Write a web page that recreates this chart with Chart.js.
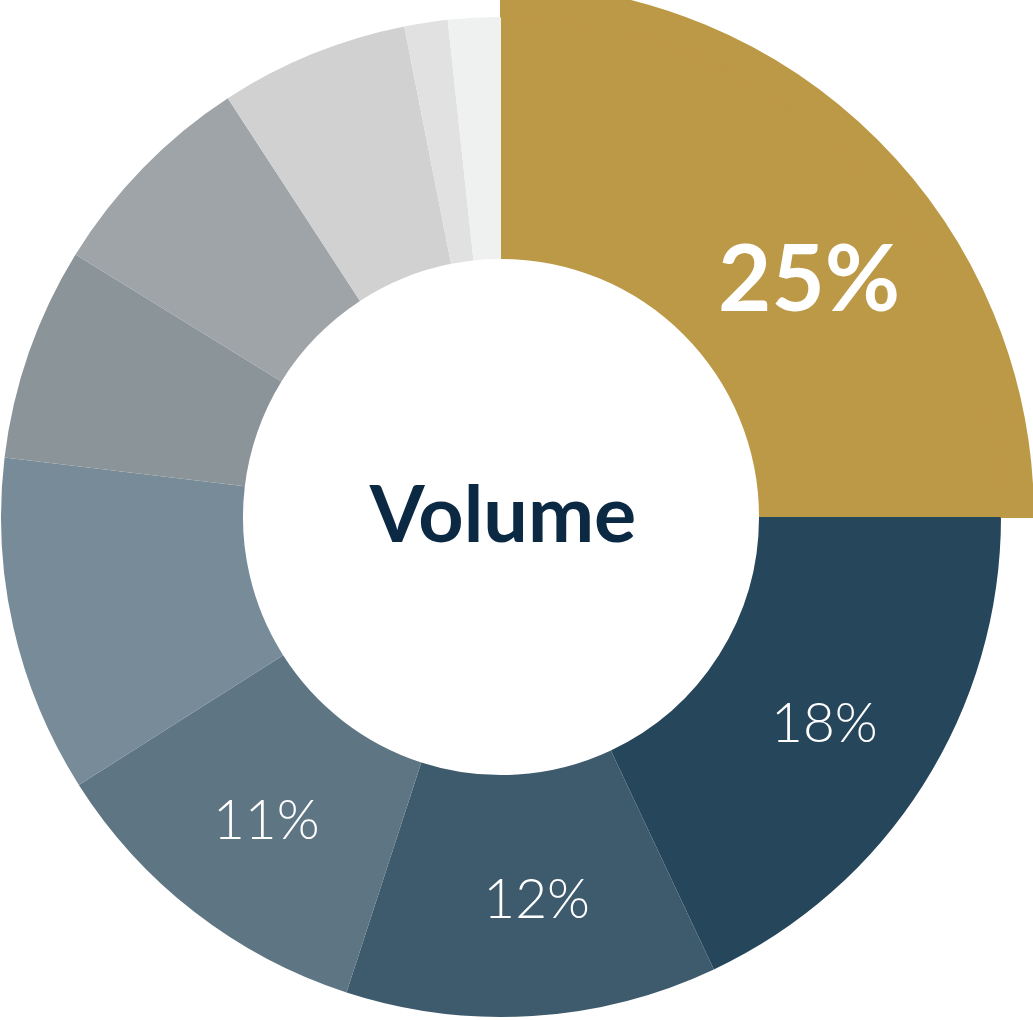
<!DOCTYPE html>
<html>
<head>
<meta charset="utf-8">
<title>Volume</title>
<script src="https://cdn.jsdelivr.net/npm/chart.js@4.4.0/dist/chart.umd.min.js"></script>
<style>
  html, body { margin: 0; padding: 0; background: #ffffff; overflow: hidden; }
  #wrap { position: relative; width: 1033px; height: 1020px; }
</style>
</head>
<body>
<div id="wrap"><canvas id="volume-doughnut-chart"></canvas></div>
<script>
// data (share of volume, %)
let segments = ['Segment 1', 'Segment 2', 'Segment 3', 'Segment 4', 'Segment 5',
                'Segment 6', 'Segment 7', 'Segment 8', 'Segment 9', 'Segment 10']
let volumeShares = [25, 18, 12, 11, 10.9, 6.9, 7.0, 6.1, 1.4, 1.7]
let sliceLabels = ['25%', '18%', '12%', '11%', '', '', '', '', '', '']
let centerTitle = 'Volume'

let sliceColors = ['#bc9946', '#26465b', '#3e5a6d', '#5e7584', '#788b98',
                   '#8b9498', '#9ea4a7', '#d1d1d1', '#e1e1e1', '#eff0f0']
let gold = sliceColors[0]

// outer thin ring only shows the first (highlighted) slice, so it sticks out
let highlightColors = sliceColors.map(function(c, i) { return i == 0 ? c : 'rgba(0,0,0,0)' })
let highlightBorders = sliceColors.map(function(c, i) { return i == 0 ? 2 : 0 })

// label placement: how far along the slice, and distance from centre
let bigLabel = { size: 92, weight: 700, radius: 390, along: 0.58 }
let smallLabel = { size: 55, weight: 300, radius: 383, along: 0.5 }
let labelAlong = [0.58, 0.5, 0.46, 0.5]

// draws slice labels and the title in the hole
let textPlugin = {
    id: 'sliceText',
    afterDatasetsDraw(chart) {
        let ctx = chart.ctx
        let meta = chart.getDatasetMeta(1)
        ctx.save()
        ctx.textAlign = 'center'
        ctx.textBaseline = 'alphabetic'
        meta.data.forEach(function(arc, i) {
            let text = sliceLabels[i]
            if (!text) return
            let p = arc.getProps(['x', 'y', 'startAngle', 'endAngle'], true)
            let style = i == 0 ? bigLabel : smallLabel
            let along = labelAlong[i] !== undefined ? labelAlong[i] : style.along
            let angle = p.startAngle + (p.endAngle - p.startAngle) * along
            let x = p.x + Math.cos(angle) * style.radius
            let y = p.y + Math.sin(angle) * style.radius
            ctx.font = style.weight + ' ' + style.size + 'px Lato, "Open Sans", sans-serif'
            ctx.fillStyle = '#ffffff'
            ctx.fillText(text, x, y + style.size * 0.36)
        })
        let c = meta.data[0].getProps(['x', 'y'], true)
        ctx.font = '700 79px Lato, "Open Sans", sans-serif'
        ctx.fillStyle = '#0c2944'
        ctx.fillText(centerTitle, c.x + 2, c.y + 25)
        ctx.restore()
    }
}

let ctx = document.querySelector('#volume-doughnut-chart').getContext('2d')

let volumeChart = new Chart(ctx, {
    type: 'doughnut',
    data: {
        labels: segments,
        datasets: [
            {
                data: volumeShares,
                backgroundColor: highlightColors,
                borderColor: gold,
                borderWidth: highlightBorders,
                weight: 32,
                clip: false
            },
            {
                data: volumeShares,
                backgroundColor: sliceColors,
                borderWidth: 0,
                weight: 242,
                clip: false
            }
        ]
    },
    options: {
        responsive: true,
        maintainAspectRatio: false,
        animation: false,
        radius: 532,
        cutout: '48.5%',
        layout: { padding: { left: 0, right: 31, top: 14, bottom: 0 } },
        plugins: {
            legend: { display: false },
            tooltip: { enabled: false }
        }
    },
    plugins: [textPlugin]
})
</script>
</body>
</html>
